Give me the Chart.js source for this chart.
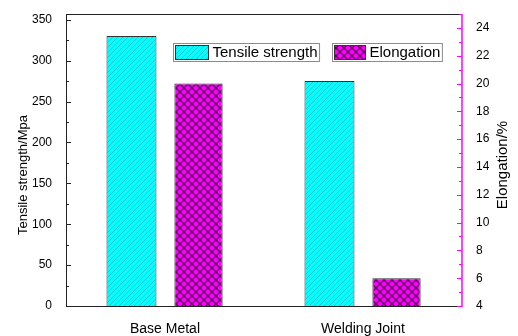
<!DOCTYPE html>
<html>
<head>
<meta charset="utf-8">
<title>Tensile strength and elongation</title>
<script src="https://cdn.jsdelivr.net/npm/chart.js@4.4.1/dist/chart.umd.min.js"></script>
<style>
    html, body { margin: 0; padding: 0; background: #fff; }
    #chart { display: block; }
</style>
</head>
<body>
<canvas id="chart" width="518" height="336"></canvas>
<script>
// Werte der beiden Proben
const categories = ['Base Metal', 'Welding Joint'];
const tensileStrength = [330, 275];   // Mpa
const elongation = [20, 6];           // %

const leftTicks = [0, 50, 100, 150, 200, 250, 300, 350];
const rightTicks = [4, 6, 8, 10, 12, 14, 16, 18, 20, 22, 24];

const FONT = 'Arial, "Liberation Sans", sans-serif';

// Schraffur-Muster fuer die Balken
function makeHatch() {
    const c = document.createElement('canvas');
    c.width = 5; c.height = 5;
    const g = c.getContext('2d');
    g.fillStyle = '#00ffff';
    g.fillRect(0, 0, 5, 5);
    g.strokeStyle = '#22c4cf';
    g.lineWidth = 1;
    g.beginPath();
    g.moveTo(-1, 6); g.lineTo(6, -1);
    g.moveTo(-1, 1); g.lineTo(1, -1);
    g.moveTo(4, 6); g.lineTo(6, 4);
    g.stroke();
    return g.createPattern(c, 'repeat');
}

function makeCrossHatch() {
    const c = document.createElement('canvas');
    c.width = 8; c.height = 8;
    const g = c.getContext('2d');
    g.fillStyle = '#ff00ff';
    g.fillRect(0, 0, 8, 8);
    g.strokeStyle = '#5e005e';
    g.lineWidth = 1.3;
    g.beginPath();
    g.moveTo(0, 0); g.lineTo(8, 8);
    g.moveTo(0, 8); g.lineTo(8, 0);
    g.stroke();
    return g.createPattern(c, 'repeat');
}

const hatch = makeHatch();
const crossHatch = makeCrossHatch();

// gedrehter Achsentitel (von unten nach oben lesbar)
function drawVerticalTitle(ctx, text, x, y, size) {
    ctx.save();
    ctx.font = size + 'px ' + FONT;
    ctx.translate(x, y);
    ctx.rotate(-Math.PI / 2);
    ctx.fillText(text, 0, 0);
    ctx.restore();
}

// Achsenlinien, Ticks nach innen, Achsentitel
const axesPlugin = {
    id: 'axesPlugin',
    afterDatasetsDraw(chart) {
        const { ctx, chartArea: a, scales } = chart;
        ctx.save();
        ctx.lineWidth = 1;

        // Rahmen oben und unten
        ctx.strokeStyle = '#222';
        ctx.beginPath();
        ctx.moveTo(a.left, a.top + 0.5); ctx.lineTo(a.right, a.top + 0.5);
        ctx.moveTo(a.left, a.bottom + 0.5); ctx.lineTo(a.right, a.bottom + 0.5);
        ctx.stroke();

        // linke Achse
        const y = scales.y;
        ctx.beginPath();
        ctx.moveTo(a.left + 0.5, a.top); ctx.lineTo(a.left + 0.5, a.bottom + 1);
        for (let v = 0; v <= y.max; v += 25) {
            const p = Math.round(y.getPixelForValue(v)) + 0.5;
            const len = v % 50 === 0 ? 5 : 3;
            ctx.moveTo(a.left, p); ctx.lineTo(a.left + len, p);
        }
        ctx.stroke();

        // rechte Achse in Magenta
        const y1 = scales.y1;
        ctx.strokeStyle = '#ff00ff';
        ctx.lineWidth = 1.5;
        ctx.beginPath();
        ctx.moveTo(a.right, a.top); ctx.lineTo(a.right, a.bottom + 1);
        ctx.stroke();
        ctx.lineWidth = 1;
        ctx.beginPath();
        for (let v = y1.min; v <= y1.max; v += 1) {
            const p = Math.round(y1.getPixelForValue(v)) + 0.5;
            const len = v % 2 === 0 ? 5 : 3;
            ctx.moveTo(a.right, p); ctx.lineTo(a.right - len, p);
        }
        ctx.stroke();

        ctx.fillStyle = '#000';
        ctx.textAlign = 'center';
        ctx.textBaseline = 'middle';
        drawVerticalTitle(ctx, 'Tensile strength/Mpa', 23, 175, 13);
        drawVerticalTitle(ctx, 'Elongation/%', 503, 165, 15);

        ctx.restore();
    }
};

// Legende mit Rahmen im Diagramm oben
const boxLegend = {
    id: 'boxLegend',
    afterDraw(chart) {
        const { ctx, chartArea: a } = chart;
        const starts = [a.left + 107, a.left + 266];
        ctx.save();
        ctx.font = '15px ' + FONT;
        ctx.textBaseline = 'middle';
        chart.data.datasets.forEach((ds, i) => {
            const x = starts[i] + 0.5;
            const top = 43.5;
            const h = 18;
            const tw = ctx.measureText(ds.label).width;
            const sw = i === 0 ? 33 : 31;
            const w = 2 + sw + 4 + tw + 2;
            ctx.strokeStyle = '#8c8c8c';
            ctx.lineWidth = 1;
            ctx.strokeRect(x, top, w, h);
            ctx.fillStyle = ds.backgroundColor;
            ctx.fillRect(x + 2, top + 2, sw, h - 4);
            ctx.strokeStyle = '#333';
            ctx.strokeRect(x + 2, top + 2, sw, h - 4);
            ctx.fillStyle = '#000';
            ctx.fillText(ds.label, x + 2 + sw + 4, top + h / 2 + 0.5);
        });
        ctx.restore();
    }
};

new Chart(document.getElementById('chart'), {
    type: 'bar',
    data: {
        labels: categories,
        datasets: [
            {
                label: 'Tensile strength',
                data: tensileStrength,
                yAxisID: 'y',
                backgroundColor: hatch,
                borderColor: '#333',
                borderWidth: 1,
                categoryPercentage: 0.677,
                barPercentage: 0.746
            },
            {
                label: 'Elongation',
                data: elongation,
                yAxisID: 'y1',
                backgroundColor: crossHatch,
                borderColor: '#333',
                borderWidth: 1,
                categoryPercentage: 0.677,
                barPercentage: 0.72
            }
        ]
    },
    options: {
        responsive: false,
        animation: false,
        layout: { padding: { top: 14, left: 0, right: 0, bottom: 0 } },
        plugins: {
            legend: { display: false },
            tooltip: { enabled: false }
        },
        scales: {
            x: {
                grid: { display: false },
                border: { display: false },
                ticks: { color: '#000', font: { family: FONT, size: 14 }, padding: 7 },
                afterFit(scale) { scale.height = 30; }
            },
            y: {
                position: 'left',
                min: 0,
                max: 357,
                grid: { display: false },
                border: { display: false },
                ticks: {
                    stepSize: 50,
                    includeBounds: false,
                    color: '#000',
                    padding: 6,
                    font: { family: FONT, size: 12 },
                    callback: (v) => leftTicks.includes(v) ? v : null
                },
                afterFit(scale) { scale.width = 66; }
            },
            y1: {
                position: 'right',
                min: 4,
                max: 25,
                grid: { display: false },
                border: { display: false },
                ticks: {
                    stepSize: 2,
                    includeBounds: false,
                    color: '#000',
                    padding: 6,
                    font: { family: FONT, size: 12 },
                    callback: (v) => rightTicks.includes(v) ? v : null
                },
                afterFit(scale) { scale.width = 56; }
            }
        }
    },
    plugins: [axesPlugin, boxLegend]
});
</script>
</body>
</html>
